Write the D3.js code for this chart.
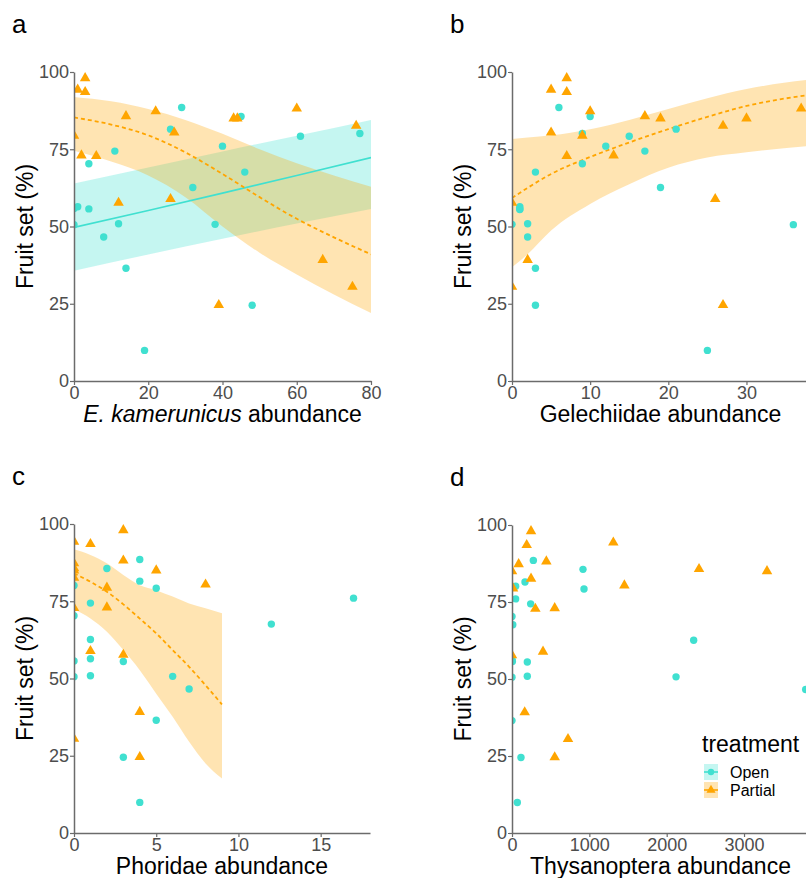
<!DOCTYPE html>
<html><head><meta charset="utf-8">
<script src="https://cdn.jsdelivr.net/npm/d3@7"></script>
<style>
body{margin:0;background:#fff;}
svg{display:block;font-family:"Liberation Sans",Arial,sans-serif;}
</style></head>
<body><svg id="chart" width="806" height="878"></svg>
<script>
// ---------- DATA ----------
const yTicks = [0, 25, 50, 75, 100];
const xTicksA = [0, 20, 40, 60, 80];
const xTicksB = [0, 10, 20, 30];
const xTicksC = [0, 5, 10, 15];
const xTicksD = [0, 1000, 2000, 3000];
const treatments = ["Open", "Partial"];

// panel a: E. kamerunicus abundance
const openA = [[0,50.6],[0,55.8],[1,56.4],[4,55.7],[4,70.3],[8,46.6],[11,74.4],[12,50.9],[14,36.5],[19,9.9],[26,81.5],[29,88.5],[32,62.6],[38,50.7],[40,76.0],[45,85.6],[46,67.6],[48,24.5],[61,79.2],[77,80.1]];
const partialA = [[0,79.4],[1,94.3],[3,98.0],[3,93.5],[2,73.0],[6,72.8],[12,57.7],[14,85.7],[22,87.3],[26,58.9],[27,80.4],[39,24.6],[43,85.0],[44,85.0],[60,88.2],[67,39.2],[75,30.5],[76,82.6]];
const fitOpenA_x = [0, 20, 40, 60, 80];
const fitOpenA_fit = [49.7, 55.2, 60.8, 66.5, 72.3];
const fitOpenA_lo = [35.7, 40.9, 46.0, 51.0, 55.7];
const fitOpenA_hi = [63.9, 69.1, 74.3, 79.4, 84.5];
const fitPartA_x = [0, 10, 20, 30, 40, 50, 60, 70, 80];
const fitPartA_fit = [85.3, 83.0, 79.5, 74.0, 67.0, 59.5, 52.5, 46.5, 41.0];
const fitPartA_lo = [74.5, 71.0, 66.5, 59.5, 50.0, 41.5, 34.5, 28.0, 22.0];
const fitPartA_hi = [91.9, 90.5, 88.0, 84.5, 80.0, 75.0, 70.5, 66.5, 62.9];

// panel b: Gelechiidae abundance
const openB = [[0,50.7],[1,56.4],[1,55.7],[1,55.5],[2,50.9],[2,46.6],[3,67.6],[3,36.5],[3,24.5],[6,88.5],[9,80.1],[9,70.3],[10,85.6],[12,76.0],[15,79.2],[17,74.4],[19,62.6],[21,81.5],[25,9.9],[36,50.6]];
const partialB = [[0,57.7],[0,30.5],[2,39.2],[5,94.3],[5,80.4],[7,98.0],[7,93.5],[7,72.8],[9,79.4],[10,87.3],[13,73.0],[17,85.7],[19,85.0],[26,58.9],[27,82.6],[27,24.6],[30,85.0],[37,88.2]];
const fitPartB_x = [0, 2, 5, 10, 15, 20, 25, 30, 38];
const fitPartB_fit = [59.2, 62.5, 67.0, 72.5, 77.2, 81.5, 85.5, 89.0, 92.6];
const fitPartB_lo = [36.8, 41.0, 48.7, 57.3, 63.7, 69.0, 72.3, 74.0, 76.1];
const fitPartB_hi = [78.3, 78.8, 79.5, 81.5, 84.5, 88.0, 91.5, 94.5, 97.5];

// panel c: Phoridae abundance
const openC = [[0,80.1],[0,70.3],[0,55.7],[0,50.6],[1,74.4],[1,62.6],[1,56.4],[1,50.9],[2,85.6],[3,55.5],[3,24.5],[4,88.5],[4,81.5],[4,9.9],[5,79.2],[5,36.5],[6,50.7],[7,46.6],[12,67.6],[17,76.0]];
const partialC = [[0,94.3],[0,87.3],[0,85.0],[0,82.6],[0,72.8],[0,30.5],[0,85.7],[1,93.5],[1,58.9],[2,79.4],[2,73.0],[3,98.0],[3,88.2],[3,57.7],[4,39.2],[4,24.6],[5,85.0],[8,80.4]];
const fitPartC_x = [0, 1, 2, 3, 4, 5, 6, 7, 8, 9];
const fitPartC_fit = [84.0, 81.3, 78.1, 74.0, 69.4, 64.6, 59.2, 53.8, 47.8, 41.6];
const fitPartC_lo = [72.4, 69.4, 65.1, 59.2, 52.7, 45.1, 37.6, 29.5, 22.5, 17.6];
const fitPartC_hi = [91.8, 90.0, 87.3, 83.5, 80.2, 78.6, 76.5, 74.3, 72.7, 71.1];

// panel d: Thysanoptera abundance
const openD = [[0,70.3],[10,67.6],[0,56.4],[5,55.7],[0,50.6],[0,36.5],[47,80.1],[47,76.0],[116,24.5],[69,9.9],[168,81.5],[198,55.5],[198,50.9],[241,74.4],[276,88.5],[918,85.6],[931,79.2],[2121,50.7],[2349,62.6],[3797,46.6]];
const partialD = [[0,85.0],[13,79.4],[0,57.7],[86,87.3],[164,39.2],[190,93.5],[246,98.0],[246,82.6],[302,72.8],[401,58.9],[444,88.2],[552,73.0],[552,24.6],[724,30.5],[1310,94.3],[1453,80.4],[2418,85.7],[3297,85.0]];

// ---------- STYLE / LAYOUT ----------
const colOpen = "#40E0D0", colPart = "#FFA500";
const svg = d3.select("#chart");
const defs = svg.append("defs");

function fitRows(xs, fit, lo, hi){ return xs.map((x,i)=>({x, fit:fit[i], lo:lo[i], hi:hi[i]})); }

const panels = [
  {letter:"a", left:74, right:371, top:72, bottom:381, xmax:80, xticks:xTicksA, xlab:[["E. kamerunicus",true],[" abundance",false]],
   open:openA, part:partialA, fitOpen:fitRows(fitOpenA_x,fitOpenA_fit,fitOpenA_lo,fitOpenA_hi), fitPart:fitRows(fitPartA_x,fitPartA_fit,fitPartA_lo,fitPartA_hi)},
  {letter:"b", left:512, right:809, top:72, bottom:381, xmax:38, xticks:xTicksB, xlab:[["Gelechiidae abundance",false]],
   open:openB, part:partialB, fitOpen:null, fitPart:fitRows(fitPartB_x,fitPartB_fit,fitPartB_lo,fitPartB_hi)},
  {letter:"c", left:74, right:370, top:524, bottom:833, xmax:18, xticks:xTicksC, xlab:[["Phoridae abundance",false]],
   open:openC, part:partialC, fitOpen:null, fitPart:fitRows(fitPartC_x,fitPartC_fit,fitPartC_lo,fitPartC_hi)},
  {letter:"d", left:512, right:809, top:525, bottom:833, xmax:3840, xticks:xTicksD, xlab:[["Thysanoptera abundance",false]],
   open:openD, part:partialD, fitOpen:null, fitPart:null}
];

const tri = d3.symbol().type(d3.symbolTriangle).size(48);

panels.forEach((p,pi)=>{
  const x = d3.scaleLinear().domain([0,p.xmax]).range([p.left,p.right]);
  const y = d3.scaleLinear().domain([0,100]).range([p.bottom,p.top]);
  const cid = "clip"+pi;
  defs.append("clipPath").attr("id",cid).append("rect")
    .attr("x",p.left).attr("y",p.top-8).attr("width",p.right-p.left).attr("height",p.bottom-p.top+8);
  const g = svg.append("g").attr("clip-path",`url(#${cid})`);

  const area = d3.area().x(d=>x(d.x)).y0(d=>y(d.lo)).y1(d=>y(d.hi)).curve(d3.curveMonotoneX);
  const line = d3.line().x(d=>x(d.x)).y(d=>y(d.fit)).curve(d3.curveMonotoneX);

  if(p.fitOpen) g.append("path").attr("d",area(p.fitOpen)).attr("fill",colOpen).attr("fill-opacity",0.3);
  if(p.fitPart) g.append("path").attr("d",area(p.fitPart)).attr("fill",colPart).attr("fill-opacity",0.3);
  if(p.fitOpen) g.append("path").attr("d",line(p.fitOpen)).attr("fill","none").attr("stroke",colOpen).attr("stroke-width",1.6);
  if(p.fitPart) g.append("path").attr("d",line(p.fitPart)).attr("fill","none").attr("stroke",colPart).attr("stroke-width",1.8).attr("stroke-dasharray","4,3");

  g.selectAll(".op").data(p.open).enter().append("circle")
    .attr("cx",d=>x(d[0])).attr("cy",d=>y(d[1])).attr("r",3.7).attr("fill",colOpen);
  g.selectAll(".pt").data(p.part).enter().append("path")
    .attr("d",tri).attr("transform",d=>`translate(${x(d[0])},${y(d[1])})`).attr("fill",colPart);

  // axes
  const ga = svg.append("g");
  const ax = ga.append("g").attr("transform",`translate(0,${p.bottom})`)
    .call(d3.axisBottom(x).tickValues(p.xticks).tickFormat(d3.format("d")).tickSize(4).tickSizeOuter(0).tickPadding(1));
  const ay = ga.append("g").attr("transform",`translate(${p.left},0)`)
    .call(d3.axisLeft(y).tickValues(yTicks).tickFormat(d3.format("d")).tickSize(4).tickSizeOuter(0).tickPadding(1));
  [ax,ay].forEach(a=>{
    a.select(".domain").attr("stroke","#6b6b6b").attr("stroke-width",1.5);
    a.selectAll(".tick line").attr("stroke","#6b6b6b").attr("stroke-width",1.2);
    a.selectAll(".tick text").attr("fill","#4d4d4d").style("font-size","18px").style("font-family","Liberation Sans, Arial, sans-serif");
  });

  // panel letter
  svg.append("text").attr("x",p.left-62).attr("y",p.top-39).text(p.letter)
    .style("font-size","26px").attr("fill","#000");
  // y title
  svg.append("text").attr("transform",`translate(${p.left-41},${(p.top+p.bottom)/2}) rotate(-90)`)
    .attr("text-anchor","middle").style("font-size","23px").attr("fill","#000").text("Fruit set (%)");
  // x title
  const xt = svg.append("text").attr("x",(p.left+p.right)/2).attr("y",p.bottom+41)
    .attr("text-anchor","middle").style("font-size","23px").attr("fill","#000");
  p.xlab.forEach(([t,it])=>xt.append("tspan").text(t).style("font-style",it?"italic":"normal"));
});

// legend
const lg = svg.append("g");
lg.append("text").attr("x",702).attr("y",752).text("treatment").style("font-size","23px").attr("fill","#000");
treatments.forEach((t,i)=>{
  const ky = 764 + i*18;
  const c = i===0?colOpen:colPart;
  lg.append("rect").attr("x",704).attr("y",ky).attr("width",14).attr("height",16).attr("fill",c).attr("fill-opacity",0.3);
  lg.append("line").attr("x1",704).attr("x2",718).attr("y1",ky+8).attr("y2",ky+8).attr("stroke",c).attr("stroke-width",1.6);
  if(i===0) lg.append("circle").attr("cx",711).attr("cy",ky+8).attr("r",3.2).attr("fill",c);
  else lg.append("path").attr("d",d3.symbol().type(d3.symbolTriangle).size(36)).attr("transform",`translate(711,${ky+8})`).attr("fill",c);
  lg.append("text").attr("x",730).attr("y",ky+14).text(t).style("font-size","16px").attr("fill","#000");
});
</script>
</body></html>
